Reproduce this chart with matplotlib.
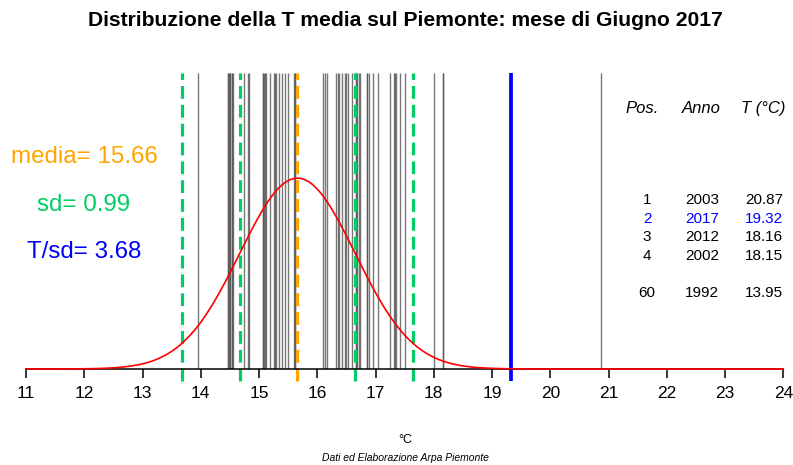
import numpy as np
import matplotlib
matplotlib.use("Agg")
import matplotlib.pyplot as plt

plt.rcParams['font.family'] = ['Liberation Sans', 'DejaVu Sans']

# Data
temps = [13.95, 14.46, 14.47, 14.48, 14.50, 14.51, 14.53, 14.54, 14.55,
         14.75, 14.81, 14.82, 15.06, 15.07, 15.09, 15.10, 15.12,
         15.18, 15.26, 15.28, 15.30, 15.35, 15.39, 15.44, 15.49,
         15.60, 15.61, 15.62, 16.09, 16.13, 16.16,
         16.33, 16.35, 16.37, 16.42, 16.48, 16.50, 16.52, 16.59,
         16.66, 16.67, 16.69, 16.71, 16.73, 16.85, 16.86, 16.88, 16.95, 17.05,
         17.25, 17.32, 17.33, 17.36, 17.42, 17.51, 18.01, 18.15, 18.16,
         19.32, 20.87]
mean_t = 15.66
sd_t = 0.99
t_2017 = 19.32
xticks = list(range(11, 25))

table_pos = ["1", "2", "3", "4", "60"]
table_year = ["2003", "2017", "2012", "2002", "1992"]
table_t = ["20.87", "19.32", "18.16", "18.15", "13.95"]

W, H = 793, 465
fig = plt.figure(figsize=(W / 100, H / 100), dpi=100)
ax = fig.add_axes([26 / W, (H - 369) / H, (783.3 - 26) / W, 296 / H])
ytop = 0.625
ax.set_xlim(11, 24)
ax.set_ylim(0, ytop)

ybot = -12 / 296 * ytop

# gray lines for each year
ax.vlines(temps, 0, ytop, colors='#555555', linewidth=1.0, alpha=0.8, zorder=2)

green = '#00CD66'
for k in (-2, -1, 1, 2):
    ax.vlines(mean_t + k * sd_t, ybot, ytop, colors=green, linewidth=2.3,
              linestyles=(0, (4, 1.9)), clip_on=False, zorder=3)
ax.vlines(mean_t, ybot, ytop, colors='#FFA500', linewidth=2.3,
          linestyles=(0, (4, 1.9)), clip_on=False, zorder=3)
ax.vlines(t_2017, ybot, ytop, colors='#0000FF', linewidth=2.7,
          clip_on=False, zorder=3)

xs = np.linspace(11, 24, 600)
pdf = np.exp(-0.5 * ((xs - mean_t) / sd_t) ** 2) / (sd_t * np.sqrt(2 * np.pi))
ax.plot(xs, pdf, color='red', linewidth=1.2, zorder=5, clip_on=False)

for s in ('top', 'right', 'left'):
    ax.spines[s].set_visible(False)
ax.spines['bottom'].set_linewidth(1.1)
ax.spines['bottom'].set_zorder(4)
ax.set_yticks([])
ax.set_xticks(xticks)
ax.tick_params(axis='x', direction='out', length=6.5, width=1.1, pad=6,
               labelsize=12.5)

# Title
fig.text(405 / W, 1 - 20 / H, "Distribuzione della T media sul Piemonte: mese di Giugno 2017",
         ha='center', va='center', fontsize=15.2, fontweight='bold')

# left statistics
fig.text(84 / W, 1 - 157 / H, "media= 15.66", color='#FFA500', ha='center', va='center', fontsize=17.4)
fig.text(84 / W, 1 - 205 / H, "sd= 0.99", color=green, ha='center', va='center', fontsize=17.4)
fig.text(84 / W, 1 - 252 / H, "T/sd= 3.68", color='#0000FF', ha='center', va='center', fontsize=17.4)

# table
hy = 108
fig.text(642 / W, 1 - hy / H, "Pos.", ha='center', va='center', fontsize=12, style='italic')
fig.text(701 / W, 1 - hy / H, "Anno", ha='center', va='center', fontsize=12, style='italic')
fig.text(763 / W, 1 - hy / H, "T (°C)", ha='center', va='center', fontsize=12, style='italic')
rows_y = [200, 218.5, 237, 255.5, 293]
for i, yy in enumerate(rows_y):
    c = '#0000FF' if table_year[i] == "2017" else 'black'
    fig.text(647 / W, 1 - yy / H, table_pos[i], ha='center', va='center', fontsize=11, color=c)
    fig.text(702 / W, 1 - yy / H, table_year[i], ha='center', va='center', fontsize=11, color=c)
    fig.text(764 / W, 1 - yy / H, table_t[i], ha='center', va='center', fontsize=11, color=c)

fig.text(405 / W, 1 - 440 / H, "°C", ha='center', va='center', fontsize=9)
fig.text(405 / W, 1 - 458 / H, "Dati ed Elaborazione Arpa Piemonte", ha='center', va='center',
         fontsize=7.5, style='italic')

fig.savefig("out.png", dpi=100)
